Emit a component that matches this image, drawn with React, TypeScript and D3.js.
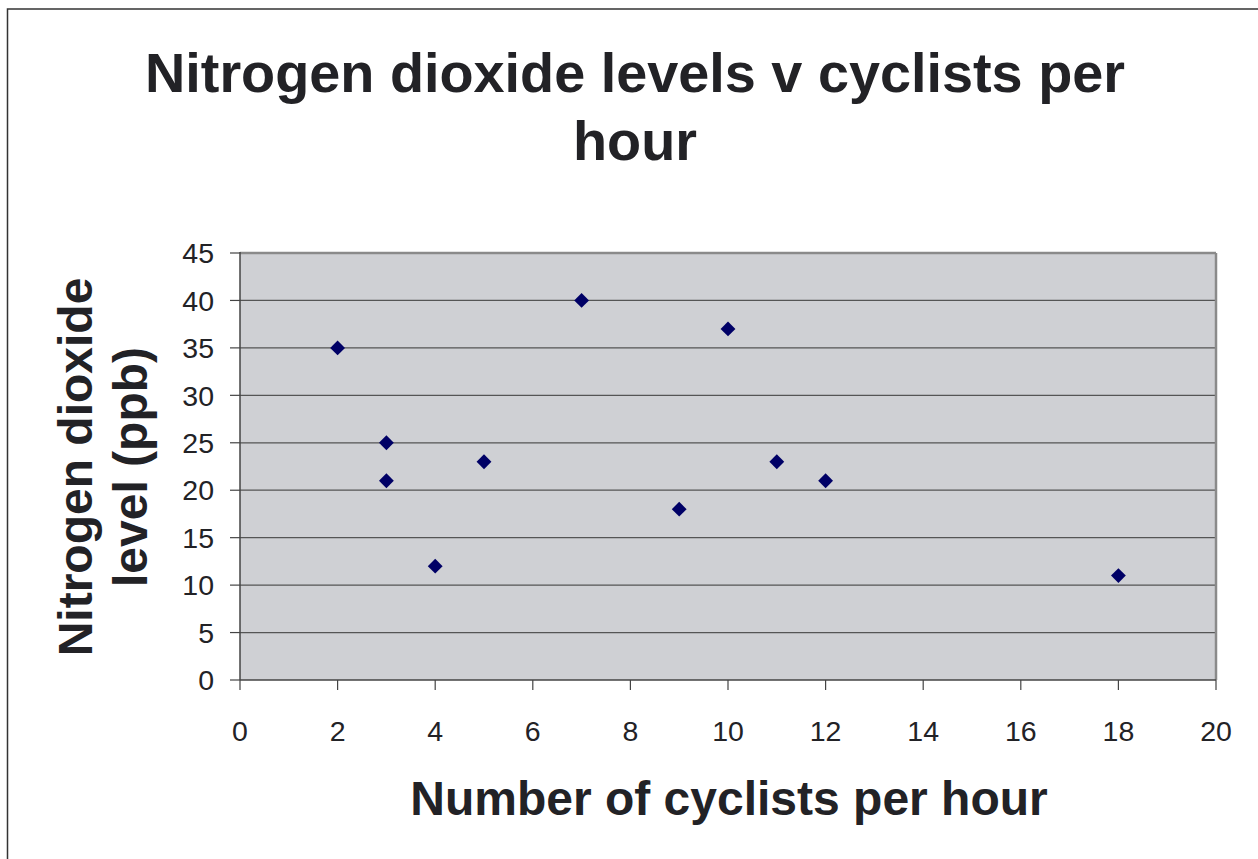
import React from "react";
import * as d3 from "d3";

const cyclists = [2, 3, 3, 4, 5, 7, 9, 10, 11, 12, 18];
const no2 = [35, 25, 21, 12, 23, 40, 18, 37, 23, 21, 11];
const xTicks = [0, 2, 4, 6, 8, 10, 12, 14, 16, 18, 20];
const yTicks = [0, 5, 10, 15, 20, 25, 30, 35, 40, 45];
const titleLines = ["Nitrogen dioxide levels v cyclists per", "hour"];
const yTitleLines = ["Nitrogen dioxide", "level (ppb)"];
const xTitle = "Number of cyclists per hour";

const W = 1258, H = 859;
const L = 240, R = 1216, T = 253, B = 680;
const FONT = "'Liberation Sans', Arial, Helvetica, sans-serif";
const TXT = "#222226";

export default function App() {
  const x = d3.scaleLinear().domain([0, 20]).range([L, R]);
  const y = d3.scaleLinear().domain([0, 45]).range([B, T]);
  const diamond = d3.symbol().type(d3.symbolDiamond2).size(140)();
  const pts = cyclists.map((c, i) => ({ c, v: no2[i] }));
  return (
    <svg width={W} height={H} style={{ position: "absolute", left: 0, top: 0, background: "#fff" }}>
      <rect x={7.5} y={9} width={W + 20} height={H + 20} fill="#fff" stroke="#333" strokeWidth={1.5} />
      {titleLines.map((t, i) => (
        <text key={i} x={635} y={92 + i * 68} textAnchor="middle" fontFamily={FONT} fontWeight="bold" fontSize={55.8} fill={TXT}>{t}</text>
      ))}
      <rect x={L} y={T} width={R - L} height={B - T} fill="#cfd0d4" />
      {yTicks.filter(v => v > 0 && v < 45).map(v => (
        <line key={v} x1={L} x2={R} y1={y(v)} y2={y(v)} stroke="#555" strokeWidth={1.2} />
      ))}
      <line x1={L} x2={R} y1={T} y2={T} stroke="#8a8a8a" strokeWidth={2.5} />
      <line x1={R} x2={R} y1={T} y2={B} stroke="#8a8a8a" strokeWidth={2.5} />
      <line x1={L} x2={L} y1={T - 1} y2={B} stroke="#444" strokeWidth={1.5} />
      <line x1={L} x2={R} y1={B} y2={B} stroke="#444" strokeWidth={1.5} />
      {yTicks.map(v => (
        <g key={v}>
          <line x1={L - 10} x2={L} y1={y(v)} y2={y(v)} stroke="#444" strokeWidth={1.2} />
          <text x={214} y={y(v)} dy="0.36em" textAnchor="end" fontFamily={FONT} fontSize={28.5} fill={TXT}>{v}</text>
        </g>
      ))}
      {xTicks.map(v => (
        <g key={v}>
          <line x1={x(v)} x2={x(v)} y1={B} y2={B + 10} stroke="#444" strokeWidth={1.2} />
          <text x={x(v)} y={741} textAnchor="middle" fontFamily={FONT} fontSize={28.5} fill={TXT}>{v}</text>
        </g>
      ))}
      {pts.map((p, i) => (
        <path key={i} d={diamond} transform={`translate(${x(p.c)},${y(p.v)})`} fill="#000066" />
      ))}
      <text x={729} y={815} textAnchor="middle" fontFamily={FONT} fontWeight="bold" fontSize={48} fill={TXT}>{xTitle}</text>
      {yTitleLines.map((t, i) => (
        <text key={i} transform={`translate(${92 + i * 55},467) rotate(-90)`} textAnchor="middle" fontFamily={FONT} fontWeight="bold" fontSize={48} fill={TXT}>{t}</text>
      ))}
    </svg>
  );
}
